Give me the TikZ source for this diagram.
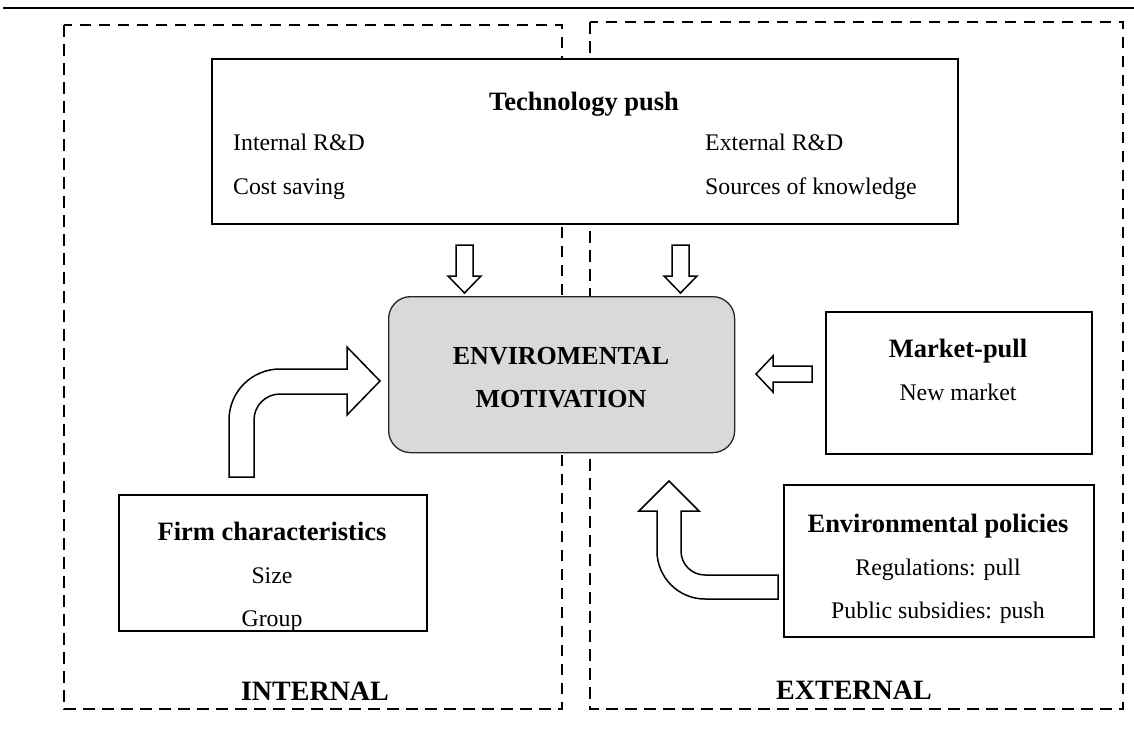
\documentclass[tikz,border=0pt]{standalone}
\usepackage{fontspec}
\setmainfont{Liberation Serif}
\definecolor{boxgray}{RGB}{217,217,217}
\begin{document}
\begin{tikzpicture}[x=1pt,y=-1pt,
  dbox/.style={draw, line width=2pt, dash pattern=on 11.5pt off 7.5pt},
  sbox/.style={draw, line width=1.8pt, fill=white, inner sep=0pt, anchor=north west},
  cbox/.style={draw=black!85, line width=1.3pt, fill=boxgray, rounded corners=22pt, inner sep=0pt, anchor=north west},
  barrow/.style={draw, line width=1.5pt, fill=white, line join=miter},
  ttl/.style={font=\fontsize{26.5}{30}\selectfont\bfseries, inner sep=0pt},
  big/.style={font=\fontsize{26}{30}\selectfont\bfseries, inner sep=0pt},
  lbl/.style={font=\fontsize{28}{32}\selectfont\bfseries, inner sep=0pt},
  txt/.style={font=\fontsize{23.8}{28}\selectfont, inner sep=0pt}]
\useasboundingbox (0,0) rectangle (1134,744);
% top rule
\draw[line width=2.5pt] (3,8) -- (1134,8);
% dashed regions
\draw[dbox] (64,25) rectangle (562,709);
\draw[dbox] (590,22) rectangle (1123,709);
% boxes
\node[sbox, minimum width=746pt, minimum height=165pt] (tech) at (211,58) {};
\node[cbox, minimum width=346pt, minimum height=156pt] (center) at (388,296) {};
\node[sbox, minimum width=266pt, minimum height=142pt] (market) at (825,311) {};
\node[sbox, minimum width=308pt, minimum height=136pt] (firm) at (118,494) {};
\node[sbox, minimum width=310pt, minimum height=152pt] (policy) at (783,484) {};
% texts
\node[ttl, anchor=base] (techT) at (584,110) {Technology push};
\node[txt, anchor=base west] (t1) at (233,150) {Internal R\&D};
\node[txt, anchor=base west] (t2) at (233,194) {Cost saving};
\node[txt, anchor=base west] (t3) at (705,150) {External R\&D};
\node[txt, anchor=base west] (t4) at (705,194) {Sources of knowledge};
\node[big, anchor=base] (c1) at (561,364) {ENVIROMENTAL};
\node[big, anchor=base] (c2) at (561,407) {MOTIVATION};
\node[ttl, anchor=base] (mT) at (958,357) {Market-pull};
\node[txt, anchor=base] (m1) at (958,400) {New market};
\node[ttl, anchor=base] (fT) at (272,540) {Firm characteristics};
\node[txt, anchor=base] (f1) at (272,583) {Size};
\node[txt, anchor=base] (f2) at (272,626) {Group};
\node[ttl, anchor=base] (pT) at (938,532) {Environmental policies};
\node[txt, anchor=base] (p1) at (938,575) {Regulations: pull};
\node[txt, anchor=base] (p2) at (938,618) {Public subsidies: push};
\node[lbl, anchor=base] (intL) at (315,700) {INTERNAL};
\node[lbl, anchor=base] (extL) at (854,699) {EXTERNAL};
% down arrows
\draw[barrow] (456,245) -- (473,245) -- (473,276) -- (481,276) -- (464.5,293) -- (448,276) -- (456,276) -- cycle;
\draw[barrow] (672,245) -- (689,245) -- (689,276) -- (697,276) -- (680.5,293) -- (664,276) -- (672,276) -- cycle;
% left arrow from market-pull
\draw[barrow] (812,366) -- (773,366) -- (773,356) -- (756,374) -- (773,392) -- (773,382) -- (812,382) -- cycle;
% bent arrow from firm characteristics
\draw[barrow] (229,477) -- (229,420) .. controls (229,391.8) and (251.8,369) .. (280,369) -- (347,369) -- (347,347) -- (380,381) -- (347,415) -- (347,394) -- (280,394) .. controls (265.6,394) and (254,405.6) .. (254,420) -- (254,477) -- cycle;
% bent arrow from environmental policies
\draw[barrow] (778,575) -- (705,575) .. controls (691.7,575) and (681,564.3) .. (681,551) -- (681,511) -- (699,511) -- (669,481) -- (639,511) -- (657,511) -- (657,551) .. controls (657,577.5) and (678.5,599) .. (705,599) -- (778,599) -- cycle;
\end{tikzpicture}
\end{document}
